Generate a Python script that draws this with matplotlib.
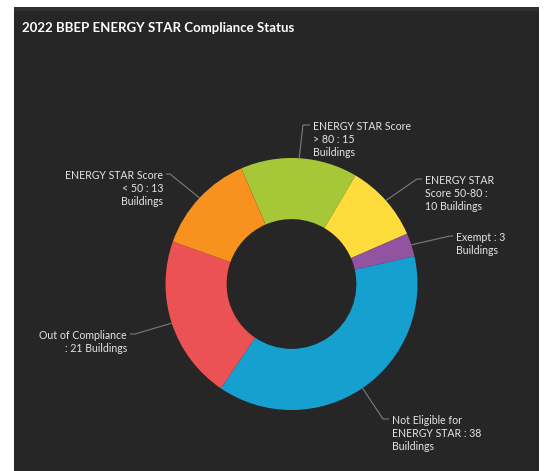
import numpy as np
import matplotlib
matplotlib.use("Agg")
import matplotlib.pyplot as plt
from matplotlib.patches import Rectangle

W, H = 544, 471

# data (clockwise from the green slice)
categories = [
    "ENERGY STAR Score\n> 80 : 15\nBuildings",
    "ENERGY STAR\nScore 50-80 :\n10 Buildings",
    "Exempt : 3\nBuildings",
    "Not Eligible for\nENERGY STAR : 38\nBuildings",
    "Out of Compliance\n: 21 Buildings",
    "ENERGY STAR Score\n< 50 : 13\nBuildings",
]
buildings = [15, 10, 3, 38, 21, 13]
colors = ["#a6c737", "#fddc3b", "#9254a0", "#16a0cf", "#ec5253", "#f7921f"]

# label layout: elbow point, text anchor (pixel coords, y down), alignment
label_layout = [
    ((303, 125), (313, 126), "left"),
    ((417, 179), (425, 180), "left"),
    ((450, 236), (456, 237), "left"),
    ((383, 419), (392, 420), "left"),
    ((135, 334), (127, 335), "right"),
    ((170, 174), (163, 175), "right"),
]

BG = "#262626"
cx, cy, R = 291.5, 284, 126

plt.rcParams["font.family"] = ["Lato", "DejaVu Sans"]

fig = plt.figure(figsize=(W / 100, H / 100), dpi=100)
fig.patch.set_facecolor("white")
fig.patches.append(Rectangle((14 / W, 0), (539 - 14) / W, (H - 7) / H,
                             transform=fig.transFigure, facecolor=BG,
                             edgecolor="none", zorder=-2))
fig.patches.append(Rectangle((14 / W, (H - 11) / H), (539 - 14) / W, 4 / H,
                             transform=fig.transFigure, facecolor="#303030",
                             edgecolor="none", zorder=-1))

ax = fig.add_axes([0, 0, 1, 1])
ax.set_facecolor("none")
ax.set_zorder(2)

wedges, _ = ax.pie(buildings, colors=colors, startangle=113.5, counterclock=False,
                   center=(cx, H - cy), radius=R,
                   wedgeprops=dict(width=R * 0.485, edgecolor="none"))

ax.set_xlim(0, W)
ax.set_ylim(0, H)
ax.set_aspect("equal")
ax.axis("off")

# leader lines start at the middle of each slice's outer edge
for w, text, (elbow, anchor, ha) in zip(wedges, categories, label_layout):
    ang = np.deg2rad((w.theta1 + w.theta2) / 2)
    px, py = cx + R * np.cos(ang), (H - cy) + R * np.sin(ang)
    ex, ey = elbow[0], H - elbow[1]
    tx = anchor[0] - 3 if ha == "left" else anchor[0] + 3
    ax.plot([px, ex, tx], [py, ey, ey], color="#7c7c7c", lw=0.8,
            solid_capstyle="butt")
    ax.text(anchor[0], H - anchor[1] + 5, text, ha=ha, va="top",
            fontsize=7.6, color="#e6e6e6", linespacing=1.2)

fig.text(22 / W, 1 - 28 / H, "2022 BBEP ENERGY STAR Compliance Status",
         ha="left", va="center", fontsize=9.5, fontweight="bold", color="white",
         zorder=3)

fig.savefig("out.png", dpi=100, facecolor=fig.get_facecolor())
